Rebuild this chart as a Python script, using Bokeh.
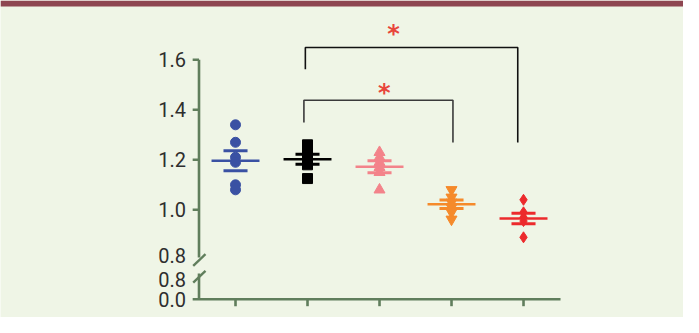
import numpy as np
from bokeh.plotting import figure
from bokeh.models import Range1d, BoxAnnotation
from bokeh.core.properties import value
from bokeh.embed import file_html
from bokeh.resources import INLINE

# ---------------- data ----------------
group_x = [1, 2, 3, 4, 5]
g1 = [1.34, 1.27, 1.21, 1.19, 1.10, 1.08]
g2 = [1.26, 1.24, 1.22, 1.20, 1.18, 1.125]
g3 = [1.23, 1.21, 1.19, 1.17, 1.15, 1.08]
g4 = [1.08, 1.05, 1.03, 1.01, 0.99, 0.962]
g5 = [1.04, 0.99, 0.97, 0.955, 0.89]
means = [1.196, 1.202, 1.172, 1.022, 0.965]
sems = [0.040, 0.020, 0.024, 0.017, 0.021]

y_ticks = [1.0, 1.2, 1.4, 1.6]
y_tick_labels = ["1.0", "1.2", "1.4", "1.6"]
# labels of the broken lower part of the axis
break_pos = [0.8192, 0.7224, 0.6424]
break_labels = ["0.8", "0.8", "0.0"]

# significance brackets: (x_left, x_right, y_left_end, y_top, y_right_end)
brackets = [(1.97, 4.92, 1.562, 1.649, 1.269),
            (1.95, 4.02, 1.349, 1.438, 1.269)]
bracket_colors = ["#111111", "#3a3a3a"]
star_x = [3.194, 3.065]
star_y = [1.716, 1.480]
star_text = ["*", "*"]

# ---------------- styles ----------------
BG = "#eff5e6"
AX = "#607e5c"
MAROON = "#8e4651"
colors = ["#3a51a3", "#000000", "#f3838a", "#f58a2b", "#ec2a2c"]
markers = ["circle", "square", "triangle", "inverted_triangle", "diamond"]
sizes = [10, 10, 11, 11, 11]
FONT = value("Roboto")

W, H = 683, 317
x0r, x1r = -2.264, 7.222
y0r, y1r = 0.5692, 1.8372

p = figure(width=W, height=H, x_range=Range1d(x0r, x1r), y_range=Range1d(y0r, y1r),
           output_backend="svg", toolbar_location=None, min_border=0,
           x_axis_location=None, y_axis_location=None)
p.outline_line_color = None
p.background_fill_color = BG
p.border_fill_color = BG
p.grid.visible = False

# top maroon band
p.add_layout(BoxAnnotation(top=y1r, bottom=y1r - 6 / 250.0, fill_color=MAROON,
                           fill_alpha=1.0, line_color=None, level="underlay"))

# ---------------- axes ----------------
ax_x = 0.493          # x position of the y axis line
tick_len_x = 0.088    # tick length in x units (~6 px)
base_y = break_pos[-1]  # the 0.0 baseline
upper_break = 0.809
lower_break = 0.745

p.segment(x0=[ax_x, ax_x], x1=[ax_x, ax_x], y0=[upper_break, base_y], y1=[y_ticks[-1], lower_break],
          line_color=AX, line_width=2.6)
# y ticks
p.segment(x0=[ax_x - tick_len_x] * len(y_ticks), x1=[ax_x] * len(y_ticks), y0=y_ticks, y1=y_ticks,
          line_color=AX, line_width=2.6)
# x axis line
p.segment(x0=[ax_x - tick_len_x], x1=[5.514], y0=[base_y], y1=[base_y], line_color=AX, line_width=2.6)
# x ticks
p.segment(x0=group_x, x1=group_x, y0=[base_y] * 5, y1=[base_y - 7 / 250.0] * 5,
          line_color=AX, line_width=2.6)
# break slashes
p.segment(x0=[0.4125, 0.4125], x1=[0.583, 0.583], y0=[0.776, 0.709], y1=[0.8224, 0.756],
          line_color=AX, line_width=2.4)

# tick labels
p.text(x=[ax_x] * len(y_ticks), y=y_ticks, text=y_tick_labels, x_offset=-13,
       text_align="right", text_baseline="middle", text_font=FONT,
       text_font_size="20px", text_color="#2e2e2e")
p.text(x=[ax_x] * len(break_pos), y=break_pos, text=break_labels, x_offset=-13,
       text_align="right", text_baseline="middle", text_font=FONT,
       text_font_size="20px", text_color="#2e2e2e")

# ---------------- data points ----------------
groups = [g1, g2, g3, g4, g5]
for gx, vals, c, m, s in zip(group_x, groups, colors, markers, sizes):
    p.scatter(x=[gx] * len(vals), y=vals, marker=m, size=s, fill_color=c, line_color=c)

gxa = np.array(group_x, dtype=float)
ma = np.array(means)
sa = np.array(sems)
p.segment(x0=gxa - 0.333, x1=gxa + 0.333, y0=ma, y1=ma, line_color=colors, line_width=2.6)
p.segment(x0=gxa - 0.167, x1=gxa + 0.167, y0=ma + sa, y1=ma + sa, line_color=colors, line_width=3)
p.segment(x0=gxa - 0.167, x1=gxa + 0.167, y0=ma - sa, y1=ma - sa, line_color=colors, line_width=3)

# ---------------- significance brackets ----------------
xs = [[b[0], b[0], b[1], b[1]] for b in brackets]
ys = [[b[2], b[3], b[3], b[4]] for b in brackets]
p.multi_line(xs=xs, ys=ys, line_color=bracket_colors, line_width=1.6)
p.text(x=star_x, y=star_y, text=star_text, text_align="center", text_baseline="middle",
       text_font=value("DejaVu Sans"), text_font_size="24px", text_font_style="bold",
       text_color="#e8463b", y_offset=3)

open("out.html", "w").write(file_html(p, INLINE))
